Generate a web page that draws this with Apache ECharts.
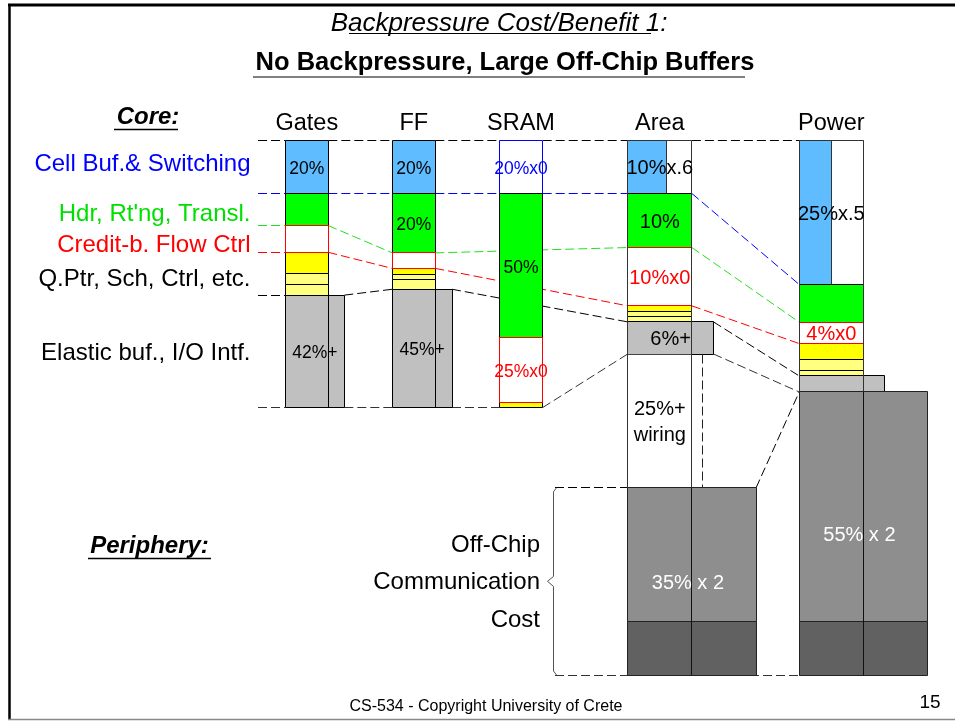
<!DOCTYPE html>
<html>
<head>
<meta charset="utf-8">
<script src="https://cdn.jsdelivr.net/npm/echarts@6/dist/echarts.min.js"></script>
<style>html,body{margin:0;padding:0;background:#fff}#chart{width:955px;height:722px}</style>
</head>
<body>
<div id="chart"></div>
<script>
// ---------------- DATA (% of core column height) ----------------
const columns = ['Gates', 'FF', 'SRAM', 'Area', 'Power'];
const rowLabels = ['Cell Buf.& Switching', "Hdr, Rt'ng, Transl.", 'Credit-b. Flow Ctrl', 'Q.Ptr, Sch, Ctrl, etc.', 'Elastic buf., I/O Intf.'];
const cellBuf = [20, 20, 20, 20, 54];
const cellBufKeep = [1, 1, 0, 0.6, 0.5];
const cellBufLabels = ['20%', '20%', '20%x0', '10%x.6', '25%x.5'];
const hdrTransl = [12, 22.2, 54, 20.2, 14.1];
const hdrLabels = ['', '20%', '50%', '10%', ''];
const creditFlow = [10, 5.8, 24.1, 21.8, 8];
const creditLabels = ['', '', '25%x0', '10%x0', '4%x0'];
const queueCtrl = [[8, 4, 4], [2.1, 2, 3.7], [1.9], [2.2, 1.9, 1.9], [6, 4, 2.1]];
const elasticBuf = [42, 44.2, 0, 12, 6];
const elasticLabels = ['42%+', '45%+', '', '6%+', ''];
const wiring = [0, 0, 0, 50, 0];
const wiringLabels = ['', '', '', '25%+\nwiring', ''];
const offChip = [0, 0, 0, 50, 85.8];
const offChipBase = [0, 0, 0, 20, 20];
const offChipFactor = [0, 0, 0, 2, 2];
const offChipLabels = ['', '', '', '35% x 2', '55% x 2'];
const peripheryLines = ['Off-Chip', 'Communication', 'Cost'];

// ---------------- LAYOUT / STYLE ----------------
const FONT = '"Liberation Sans", Arial, Helvetica, sans-serif';
const L = {
  colLeft: [285.3, 392.3, 499.3, 627.7, 799.2],
  colWidth: [43, 43, 43.4, 64.2, 64.2],
  grayExtra: [16, 16.7, 0, 21.6, 21.3],
  labelSize: [17.5, 17.5, 17.5, 20, 20],
  labelDy: 2,
  headerY: -6.2,
  tickX: 258,
  rowLabelX: 250.5,
  rowLabelDy: [-2.5, 4.5, 6, 5.5, 2],
  rowLabelColors: ['#0000ff', '#00e000', '#ff0000', '#000000', '#000000'],
  wiringDashDx: 11,
  braceX: 553,
  periphTextX: 540,
  periphGap: 37.5,
  periphDy: 1
};
const C = {
  blue: '#5ebcff', green: '#00ff00', yellow: '#ffff00', lightYellow: '#ffff80',
  gray: '#c0c0c0', offLight: '#8e8e8e', offDark: '#616161'
};
const connectorSpecs = [
  { level: 0, color: '#000000', cols: [0, 1, 2, 3, 4], tick: true },
  { level: 1, color: '#0000ff', cols: [0, 1, 2, 3, 4], tick: true },
  { level: 2, color: '#22e022', cols: [0, 1, 3, 4], tick: true },
  { level: 3, color: '#ff0000', cols: [0, 1, 3, 4], tick: true },
  { level: 4, color: '#000000', cols: [0, 1, 3, 4], tick: true },
  { level: 5, color: '#333333', cols: [0, 1, 2, 3, 4], tick: true },
  { level: 6, color: '#000000', cols: [3, 4], tick: false }
];
const DASH = [9, 4];

function sum(a) { return a.reduce((s, v) => s + v, 0); }
function levels(c) {
  const b1 = cellBuf[c], b2 = b1 + hdrTransl[c], b3 = b2 + creditFlow[c];
  const b4 = b3 + sum(queueCtrl[c]), b5 = b4 + elasticBuf[c], b6 = b5 + wiring[c];
  const b7 = b6 + offChip[c], b8 = b7 + offChipBase[c];
  return [0, b1, b2, b3, b4, b5, b6, b7, b8];
}
function rightEdge(c, level) {
  const x1 = L.colLeft[c] + L.colWidth[c];
  if (level === 4 || level === 5) return x1 + (elasticBuf[c] > 0 ? L.grayExtra[c] : 0);
  if (level === 6) return L.colLeft[c] + L.colWidth[c] * Math.max(1, offChipFactor[c]);
  return x1;
}
const snap = v => Math.round(v - 0.5) + 0.5;

// connectors built from the data boundaries
const connectorData = [];
connectorSpecs.forEach((s, si) => {
  const lv0 = levels(0);
  if (s.tick) connectorData.push([L.tickX, lv0[s.level], L.colLeft[0], lv0[s.level], si]);
  for (let i = 0; i < s.cols.length - 1; i++) {
    const a = s.cols[i], b = s.cols[i + 1];
    connectorData.push([rightEdge(a, s.level), levels(a)[s.level], L.colLeft[b], levels(b)[s.level], si]);
  }
});
// brace dashed lines (off-chip span of Area)
const lvA = levels(3);
connectorData.push([L.braceX + 2, lvA[6], L.colLeft[3], lvA[6], 6]);
connectorData.push([L.braceX + 2, lvA[8], L.colLeft[4], lvA[8], 5]);

function renderConnector(params, api) {
  const p0 = api.coord([api.value(0), api.value(1)]);
  const p1 = api.coord([api.value(2), api.value(3)]);
  const s = connectorSpecs[api.value(4)];
  const horiz = Math.abs(p0[1] - p1[1]) < 0.5;
  const y0 = horiz ? snap(p0[1]) : p0[1], y1 = horiz ? snap(p1[1]) : p1[1];
  return { type: 'line', shape: { x1: p0[0], y1: y0, x2: p1[0], y2: y1 },
    style: { stroke: s.color, lineWidth: 1, lineDash: DASH } };
}

function renderColumn(params, api) {
  const c = api.value(0);
  const x0 = L.colLeft[c], w = L.colWidth[c], x1 = x0 + w;
  const lv = levels(c);
  const ch = [];
  const P = (x, y) => api.coord([x, y]);
  function rect(xa, ya, xb, yb, fill, stroke) {
    const p0 = P(xa, ya), p1 = P(xb, yb);
    const X0 = snap(p0[0]), Y0 = snap(p0[1]), X1 = snap(p1[0]), Y1 = snap(p1[1]);
    ch.push({ type: 'rect', shape: { x: X0, y: Y0, width: X1 - X0, height: Y1 - Y0 },
      style: { fill: fill, stroke: stroke, lineWidth: 1 } });
  }
  function vline(x, ya, yb, stroke, dash) {
    const p0 = P(x, ya), p1 = P(x, yb);
    ch.push({ type: 'line', shape: { x1: snap(p0[0]), y1: snap(p0[1]), x2: snap(p1[0]), y2: snap(p1[1]) },
      style: { stroke: stroke, lineWidth: 1, lineDash: dash || null } });
  }
  function text(x, y, str, color, size, extra, dy) {
    if (!str) return;
    const p = P(x, y);
    ch.push({ type: 'text', x: p[0], y: p[1] + (dy === undefined ? L.labelDy : dy), z2: 10,
      style: Object.assign({ text: str, fill: color, font: size + 'px ' + FONT,
        textAlign: 'center', textVerticalAlign: 'middle' }, extra || {}) });
  }
  const fs = L.labelSize[c];
  const xc = x0 + w / 2;
  // header
  text(xc, L.headerY, columns[c], '#000', 23.5, null, 0);
  // cell buffer & switching
  const k = cellBufKeep[c];
  if (k === 0) rect(x0, lv[0], x1, lv[1], '#fff', '#0000ff');
  else if (k === 1) rect(x0, lv[0], x1, lv[1], C.blue, '#000');
  else { rect(x0, lv[0], x1, lv[1], '#fff', '#333'); rect(x0, lv[0], x0 + w * k, lv[1], C.blue, '#333'); }
  // header/routing
  rect(x0, lv[1], x1, lv[2], C.green, '#000');
  // credit flow control (eliminated: outline only)
  rect(x0, lv[2], x1, lv[3], '#fff', '#ff0000');
  // queue pointers etc.
  let y = lv[3];
  queueCtrl[c].forEach((h, i) => { rect(x0, y, x1, y + h, i === 0 ? C.yellow : C.lightYellow, '#000'); y += h; });
  if (creditFlow[c] > 0) rect(x0, lv[2], x1, lv[3], 'rgba(0,0,0,0)', '#ff0000');
  // elastic buffers
  if (elasticBuf[c] > 0) {
    rect(x0, lv[4], x1 + L.grayExtra[c], lv[5], C.gray, '#000');
    vline(x1, lv[4], lv[5], '#000');
  }
  // wiring
  if (wiring[c] > 0) {
    rect(x0, lv[5], x1, lv[6], '#fff', '#444');
    vline(x1 + L.wiringDashDx, lv[5], lv[6], '#222', [9, 4]);
  }
  // off-chip
  if (offChip[c] > 0) {
    const xr = x0 + w * offChipFactor[c];
    rect(x0, lv[6], xr, lv[7], C.offLight, '#222');
    rect(x0, lv[7], xr, lv[8], C.offDark, '#222');
    vline(x1, lv[6], lv[8], '#111');
  }
  // outline for scaled columns
  if (k > 0 && k < 1) {
    vline(x0, lv[0], lv[6], '#333');
    vline(x1, lv[0], lv[6], '#333');
  }
  // labels
  text(xc, (lv[0] + lv[1]) / 2, cellBufLabels[c], k === 0 ? '#0000ff' : '#000', fs);
  text(xc, (lv[1] + lv[2]) / 2, hdrLabels[c], '#000', fs);
  text(xc, (lv[2] + lv[3]) / 2, creditLabels[c], '#ff0000', fs);
  text(x0 + (w + L.grayExtra[c]) / 2, (lv[4] + lv[5]) / 2, elasticLabels[c], '#000', fs);
  text(xc, (lv[5] + lv[6]) / 2, wiringLabels[c], '#000', fs, { lineHeight: 26 });
  if (offChip[c] > 0) text(x0 + w * offChipFactor[c] / 2 - 4, (lv[6] + lv[8]) / 2, offChipLabels[c], '#fff', 20);
  return { type: 'group', children: ch };
}

function renderLabels(params, api) {
  const ch = [];
  const lv = levels(0);
  const edges = [lv[0], lv[1], lv[2], lv[3], lv[4], lv[5]];
  rowLabels.forEach((t, i) => {
    const p = api.coord([L.rowLabelX, (edges[i] + edges[i + 1]) / 2]);
    ch.push({ type: 'text', x: p[0], y: p[1] + L.rowLabelDy[i],
      style: { text: t, fill: L.rowLabelColors[i], font: '24px ' + FONT, textAlign: 'right', textVerticalAlign: 'middle' } });
  });
  // brace + periphery text tied to Area's off-chip span
  const lvA = levels(3);
  const top = api.coord([L.braceX, lvA[6]]), bot = api.coord([L.braceX, lvA[8]]);
  const bx = snap(top[0]), mid = (top[1] + bot[1]) / 2;
  ch.push({ type: 'polyline', shape: { points: [
      [bx + 3, top[1]], [bx, top[1] + 4], [bx, mid - 5], [bx - 6, mid], [bx, mid + 5], [bx, bot[1] - 4], [bx + 3, bot[1]]] },
    style: { stroke: '#555', lineWidth: 1, fill: null } });
  const tx = api.coord([L.periphTextX, 0])[0];
  peripheryLines.forEach((t, i) => {
    ch.push({ type: 'text', x: tx, y: mid + (i - 1) * L.periphGap + L.periphDy,
      style: { text: t, fill: '#000', font: '24px ' + FONT, textAlign: 'right', textVerticalAlign: 'middle' } });
  });
  return { type: 'group', children: ch };
}

const chart = echarts.init(document.getElementById('chart'), null, { renderer: 'canvas' });
chart.setOption({
  animation: false,
  backgroundColor: '#ffffff',
  grid: { left: 0, right: 0, top: 140, bottom: 47, containLabel: false },
  xAxis: { type: 'value', min: 0, max: 955, show: false },
  yAxis: { type: 'value', min: 0, max: 200, inverse: true, show: false },
  series: [
    { type: 'custom', coordinateSystem: 'cartesian2d', silent: true, clip: false, z: 1,
      renderItem: renderConnector, data: connectorData },
    { type: 'custom', coordinateSystem: 'cartesian2d', silent: true, clip: false, z: 2,
      renderItem: renderColumn, data: columns.map((n, i) => [i, 0]) },
    { type: 'custom', coordinateSystem: 'cartesian2d', silent: true, clip: false, z: 3,
      renderItem: renderLabels, data: [[0, 0]] }
  ],
  graphic: [
    { type: 'line', shape: { x1: 8, y1: 5, x2: 955, y2: 5 }, style: { stroke: '#000', lineWidth: 3 } },
    { type: 'line', shape: { x1: 9.5, y1: 4, x2: 9.5, y2: 719 }, style: { stroke: '#000', lineWidth: 2.5 } },
    { type: 'line', shape: { x1: 8, y1: 719.5, x2: 955, y2: 719.5 }, style: { stroke: '#888', lineWidth: 1.5 } },
    { type: 'text', x: 499, y: 24, style: { text: 'Backpressure Cost/Benefit 1:', font: 'italic 26px ' + FONT, fill: '#000', textAlign: 'center', textVerticalAlign: 'middle' } },
    { type: 'line', shape: { x1: 349, y1: 33.5, x2: 651, y2: 33.5 }, style: { stroke: '#000', lineWidth: 1 } },
    { type: 'text', x: 505, y: 63, style: { text: 'No Backpressure, Large Off-Chip Buffers', font: 'bold 25.5px ' + FONT, fill: '#000', textAlign: 'center', textVerticalAlign: 'middle' } },
    { type: 'line', shape: { x1: 253, y1: 77, x2: 745, y2: 77 }, style: { stroke: '#808080', lineWidth: 2 } },
    { type: 'text', x: 148, y: 117, style: { text: 'Core:', font: 'italic bold 24px ' + FONT, fill: '#000', textAlign: 'center', textVerticalAlign: 'middle' } },
    { type: 'line', shape: { x1: 114, y1: 129.5, x2: 178, y2: 129.5 }, style: { stroke: '#000', lineWidth: 1.5 } },
    { type: 'text', x: 149.5, y: 546, style: { text: 'Periphery:', font: 'italic bold 24px ' + FONT, fill: '#000', textAlign: 'center', textVerticalAlign: 'middle' } },
    { type: 'line', shape: { x1: 88, y1: 558.5, x2: 211, y2: 558.5 }, style: { stroke: '#000', lineWidth: 1.5 } },
    { type: 'text', x: 486, y: 707, style: { text: 'CS-534 - Copyright University of Crete', font: '16px ' + FONT, fill: '#000', textAlign: 'center', textVerticalAlign: 'middle' } },
    { type: 'text', x: 930, y: 703, style: { text: '15', font: '19px ' + FONT, fill: '#000', textAlign: 'center', textVerticalAlign: 'middle' } }
  ]
});
</script>
</body>
</html>
